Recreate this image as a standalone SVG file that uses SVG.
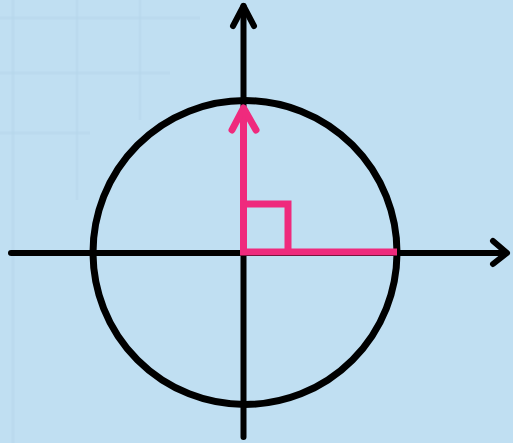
<svg xmlns="http://www.w3.org/2000/svg" width="513" height="443" viewBox="0 0 513 443">
<style>
.ax{stroke:#000;stroke-width:6;fill:none;stroke-linecap:round;stroke-linejoin:round}
.pk{stroke:#ef2a7d;stroke-width:7;fill:none;stroke-linejoin:miter}
.pka{stroke:#ef2a7d;stroke-width:7;fill:none;stroke-linecap:round;stroke-linejoin:round}
.grid{stroke:#b6d6eb;stroke-width:3;opacity:0.45}
</style>
<rect width="513" height="443" fill="#c0dff2"/>
<g id="grid">
<line class="grid" x1="13" y1="0" x2="13" y2="443"/>
<line class="grid" x1="77" y1="0" x2="77" y2="200"/>
<line class="grid" x1="140" y1="0" x2="140" y2="120"/>
<line class="grid" x1="0" y1="18" x2="200" y2="18"/>
<line class="grid" x1="0" y1="73" x2="170" y2="73"/>
<line class="grid" x1="0" y1="133" x2="90" y2="133"/>
</g>
<g id="circle"><circle cx="245" cy="252.5" r="152" fill="none" stroke="#000" stroke-width="7"/></g>
<g id="connectors">
<line class="ax" x1="11" y1="253" x2="506" y2="253"/>
<polyline class="ax" points="493,241 507,253 493,264"/>
<line class="ax" x1="243.5" y1="6" x2="243.5" y2="437"/>
<polyline class="ax" points="233,26 243.5,6 254,26"/>
</g>
<g id="right-angle">
<polyline class="pk" points="243.5,108 243.5,252 397,252"/>
<polyline class="pk" points="243.5,204 288,204 288,252"/>
<polyline class="pka" points="232,130 243.5,108 256,130"/>
</g>
</svg>
